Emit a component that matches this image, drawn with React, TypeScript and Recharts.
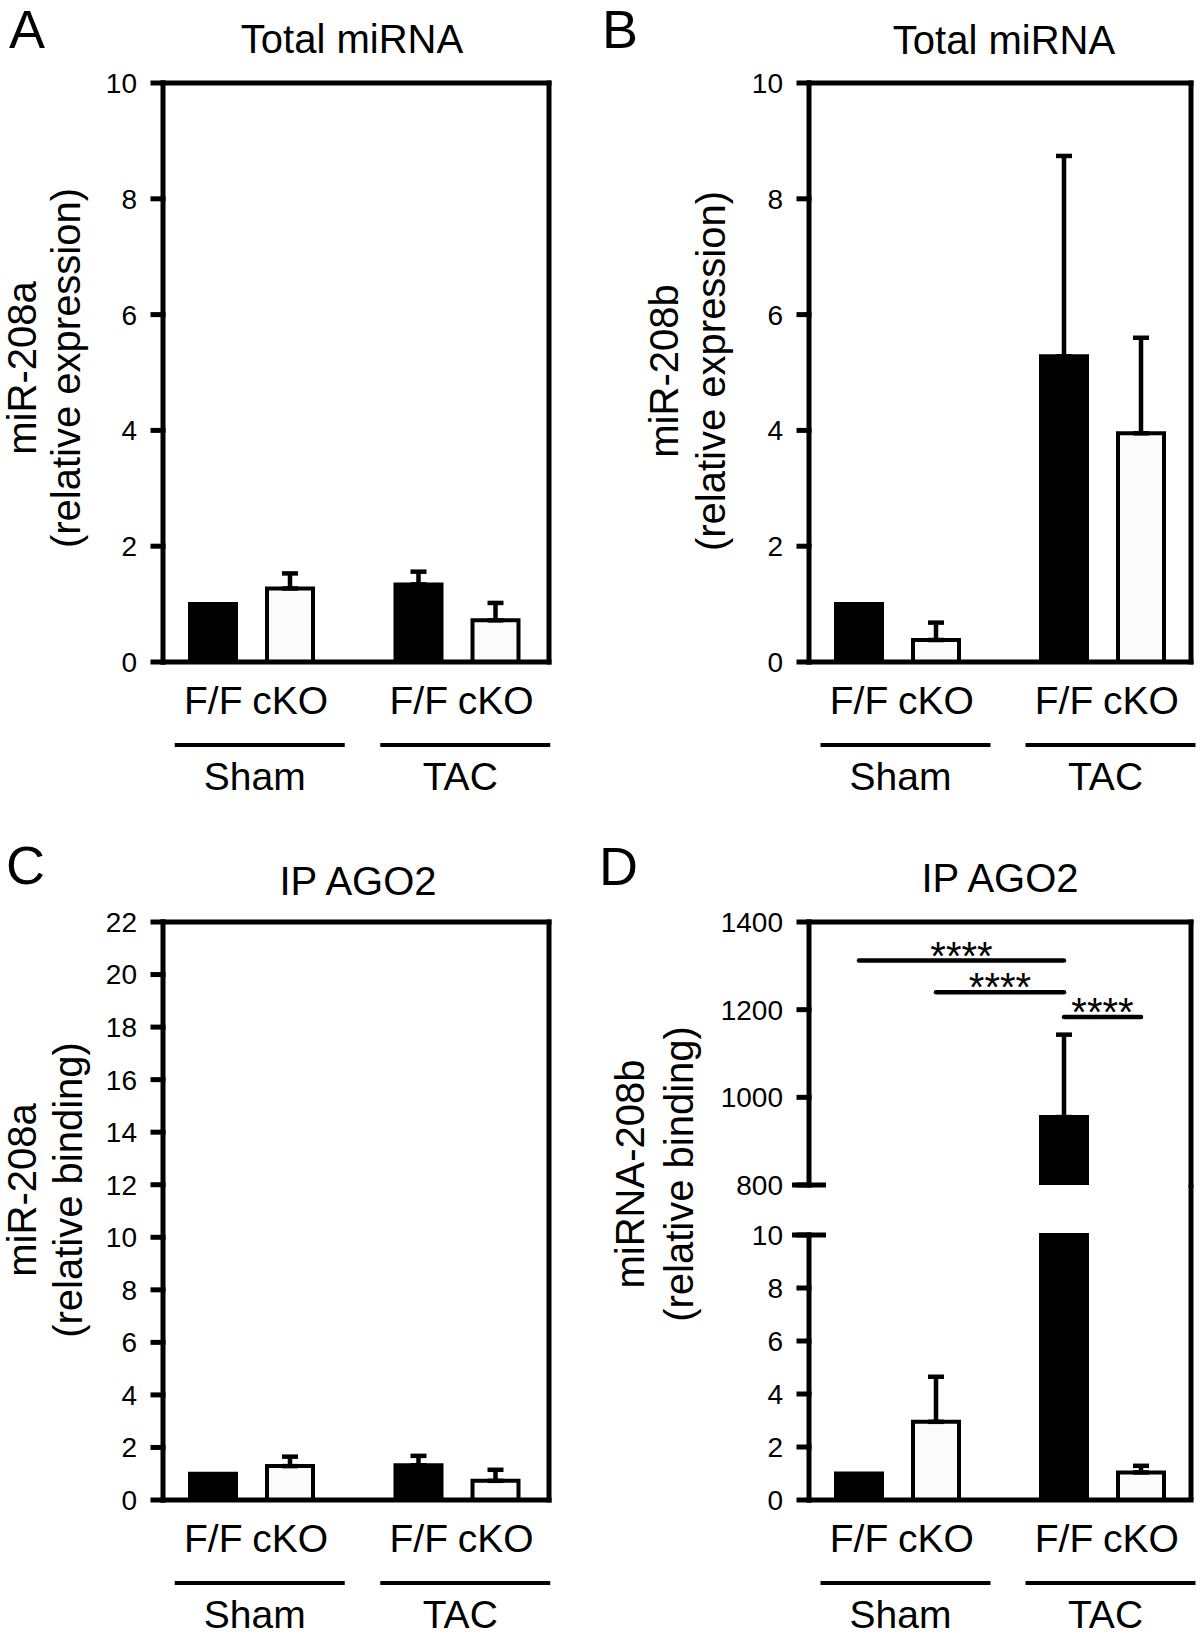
import { BarChart, Bar, XAxis, YAxis, ErrorBar, ReferenceLine, CartesianGrid } from "recharts";

const groups = ["Sham", "TAC"];
const genotypes = ["F/F", "cKO"];

// A: miR-208a, total miRNA
const aFF = [1.0, 1.34];
const aFFErr = [null, 0.22];
const aKO = [1.27, 0.72];
const aKOErr = [0.26, 0.3];

// B: miR-208b, total miRNA
const bFF = [1.0, 5.28];
const bFFErr = [null, 3.46];
const bKO = [0.38, 3.95];
const bKOErr = [0.3, 1.65];

// C: miR-208a, IP AGO2
const cFF = [1.0, 1.32];
const cFFErr = [null, 0.36];
const cKO = [1.29, 0.73];
const cKOErr = [0.36, 0.42];

// D: miRNA-208b, IP AGO2 (broken axis)
const dFF = [1.0, 955];
const dFFErr = [null, 188];
const dKO = [2.95, 1.04];
const dKOErr = [1.7, 0.25];

const ticks10 = [0, 2, 4, 6, 8, 10];
const ticks22 = [0, 2, 4, 6, 8, 10, 12, 14, 16, 18, 20, 22];
const ticksHigh = [800, 1000, 1200, 1400];
const LOW_MAX = 10;
const HIGH_MIN = 800;
const HIGH_MAX = 1400;

// significance brackets in D: [group, genotype index] -> [group, genotype index]
const brackets = [
  { from: ["Sham", 0], to: ["TAC", 0], y: 1312, label: "****" },
  { from: ["Sham", 1], to: ["TAC", 0], y: 1240, label: "****" },
  { from: ["TAC", 0], to: ["TAC", 1], y: 1183, label: "****" },
];

const FONT = '"Liberation Sans", Arial, Helvetica, sans-serif';
const W = 600;
const BAR = 46;
const GAP = 31;
const PAIR = (BAR + GAP) / 2;
const TICK_SIZE = 10;
const TICK_MARGIN = 16;
const frame = { stroke: "#000", strokeWidth: 5, strokeLinecap: "square" as const };

type View = (v: number, e: number | null) => [number | null, number | null];

function makeRows(ff: number[], ffErr: (number | null)[], ko: number[], koErr: (number | null)[], view: View = (v, e) => [v, e]) {
  return groups.map((group, i) => {
    const [f, fe] = view(ff[i], ffErr[i]);
    const [k, ke] = view(ko[i], koErr[i]);
    return {
      group,
      ff: f,
      ffErr: fe == null ? null : [0, fe],
      ko: k,
      koErr: ke == null ? null : [0, ke],
    };
  });
}

const aRows = makeRows(aFF, aFFErr, aKO, aKOErr);
const bRows = makeRows(bFF, bFFErr, bKO, bKOErr);
const cRows = makeRows(cFF, cFFErr, cKO, cKOErr);
const dLowRows = makeRows(dFF, dFFErr, dKO, dKOErr, (v, e) => (v > LOW_MAX ? [LOW_MAX, null] : [v, e]));
const dHighRows = makeRows(dFF, dFFErr, dKO, dKOErr, (v, e) => (v >= HIGH_MIN ? [v, e] : [null, null]));

// box lines: top and right edge of the plot area
const topEdge = ({ offset }: any) => [offset.top];
const rightEdge = ({ offset }: any) => [offset.left + offset.width];

function GroupTick(props: any) {
  const { x, y, payload } = props;
  return (
    <g>
      <text x={x - PAIR} y={y + 52} textAnchor="middle" fontSize={39} fill="#000">{genotypes[0]}</text>
      <text x={x + PAIR} y={y + 52} textAnchor="middle" fontSize={39} fill="#000">{genotypes[1]}</text>
      <line x1={x - 77} x2={x + 93} y1={y + 83} y2={y + 83} stroke="#000" strokeWidth={4} />
      <text x={x + 3} y={y + 128} textAnchor="middle" fontSize={39} fill="#000">{payload.value}</text>
    </g>
  );
}

function BreakTick(props: any) {
  const { x, y, payload, at } = props;
  const axisX = x + TICK_SIZE + TICK_MARGIN;
  return (
    <g>
      <text x={x} y={y} dy="0.355em" textAnchor="end" fontSize={28} fill="#000">{payload.value}</text>
      {payload.value === at && (
        <line x1={axisX - 17} x2={axisX + 17} y1={y} y2={y} stroke="#000" strokeWidth={5} />
      )}
    </g>
  );
}

function Bracket(props: any) {
  const { x1, x2, y1, dx1, dx2, label } = props;
  const a = x1 + dx1;
  const b = x2 + dx2;
  return (
    <g>
      <line x1={a} x2={b} y1={y1} y2={y1} stroke="#000" strokeWidth={4.5} strokeLinecap="round" />
      <text x={(a + b) / 2} y={y1 + 9} textAnchor="middle" fontSize={40} fill="#000">{label}</text>
    </g>
  );
}

function Texts({ letter, letterX, letterY, title, titleX, titleY, yLines, yCenter }: any) {
  return (
    <g fill="#000">
      <text x={letterX} y={letterY} fontSize={54}>{letter}</text>
      <text x={titleX} y={titleY} fontSize={40} textAnchor="middle">{title}</text>
      {yLines.map((l: any, i: number) => (
        <text key={i} x={l.x} y={yCenter} fontSize={40} textAnchor="middle" transform={`rotate(-90, ${l.x}, ${yCenter})`}>
          {l.text}
        </text>
      ))}
    </g>
  );
}

function bars() {
  return [
    <Bar key="ff" dataKey="ff" name={genotypes[0]} fill="#000" stroke="#000" strokeWidth={4} barSize={BAR} isAnimationActive={false}>
      <ErrorBar dataKey="ffErr" width={8} strokeWidth={4.5} stroke="#000" isAnimationActive={false} />
    </Bar>,
    <Bar key="ko" dataKey="ko" name={genotypes[1]} fill="#fbfbfb" stroke="#000" strokeWidth={4} barSize={BAR} isAnimationActive={false}>
      <ErrorBar dataKey="koErr" width={8} strokeWidth={4.5} stroke="#000" isAnimationActive={false} />
    </Bar>,
  ];
}

function SimplePanel({ data, yMax, ticks, lay, height, children }: any) {
  return (
    <BarChart width={W} height={height} data={data} barGap={GAP} margin={{ top: lay.top, right: W - lay.right, bottom: 0, left: 0 }}>
      <CartesianGrid
        stroke="#000"
        strokeWidth={5}
        strokeLinecap="square"
        horizontalCoordinatesGenerator={topEdge}
        verticalCoordinatesGenerator={rightEdge}
      />
      <XAxis
        dataKey="group"
        height={height - lay.bottom}
        padding={{ left: lay.padL, right: lay.padR }}
        stroke="#000"
        axisLine={frame}
        tickLine={false}
        tickSize={0}
        tickMargin={0}
        interval={0}
        tick={GroupTick}
      />
      <YAxis
        width={lay.left}
        domain={[0, yMax]}
        ticks={ticks}
        interval={0}
        stroke="#000"
        axisLine={frame}
        tickLine={frame}
        tickSize={TICK_SIZE}
        tickMargin={TICK_MARGIN}
        tick={{ fontSize: 28, fill: "#000" }}
      />
      {bars()}
      {children}
    </BarChart>
  );
}

const layA = { left: 163, right: 549, top: 83, bottom: 662, padL: -14, padR: -11 };
const layB = { left: 209, right: 591, top: 83, bottom: 662, padL: -14, padR: -14 };
const layC = { left: 163, right: 549, top: 104, bottom: 682, padL: -14, padR: -11 };
const layDLow = { left: 209, right: 591, top: 417, bottom: 682, padL: -14, padR: -14 };
const UP_TOP = 104;
const UP_BOTTOM = 367;
const UP_H = 390;

function PanelD() {
  return (
    <div style={{ position: "relative", width: W, height: 819 }}>
      <div style={{ position: "absolute", left: 0, top: 0 }}>
        <BarChart width={W} height={819} data={dLowRows} barGap={GAP}
          margin={{ top: layDLow.top, right: W - layDLow.right, bottom: 0, left: 0 }}>
          <CartesianGrid stroke="#000" strokeWidth={5} horizontal={false} verticalCoordinatesGenerator={rightEdge} />
          <XAxis
            dataKey="group"
            height={819 - layDLow.bottom}
            padding={{ left: layDLow.padL, right: layDLow.padR }}
            stroke="#000"
            axisLine={frame}
            tickLine={false}
            tickSize={0}
            tickMargin={0}
            interval={0}
            tick={GroupTick}
          />
          <YAxis
            width={layDLow.left}
            domain={[0, LOW_MAX]}
            ticks={ticks10}
            interval={0}
            stroke="#000"
            axisLine={frame}
            tickLine={frame}
            tickSize={TICK_SIZE}
            tickMargin={TICK_MARGIN}
            tick={(p: any) => <BreakTick {...p} at={LOW_MAX} />}
          />
          {bars()}
          <line x1={layDLow.right} x2={layDLow.right} y1={UP_BOTTOM} y2={layDLow.top} stroke="#000" strokeWidth={5} />
          <Texts
            letter="D" letterX={-1} letterY={67}
            title="IP AGO2" titleX={400} titleY={74}
            yLines={[{ text: "miRNA-208b", x: 44 }, { text: "(relative binding)", x: 93 }]}
            yCenter={356}
          />
        </BarChart>
      </div>
      <div style={{ position: "absolute", left: 0, top: 0 }}>
        <BarChart width={W} height={UP_H} data={dHighRows} barGap={GAP}
          margin={{ top: UP_TOP, right: W - layDLow.right, bottom: UP_H - UP_BOTTOM, left: 0 }}>
          <CartesianGrid
            stroke="#000"
            strokeWidth={5}
            strokeLinecap="square"
            horizontalCoordinatesGenerator={topEdge}
            verticalCoordinatesGenerator={rightEdge}
          />
          <XAxis dataKey="group" hide padding={{ left: layDLow.padL, right: layDLow.padR }} />
          <YAxis
            width={layDLow.left}
            domain={[HIGH_MIN, HIGH_MAX]}
            ticks={ticksHigh}
            interval={0}
            allowDataOverflow
            stroke="#000"
            axisLine={frame}
            tickLine={frame}
            tickSize={TICK_SIZE}
            tickMargin={TICK_MARGIN}
            tick={(p: any) => <BreakTick {...p} at={HIGH_MIN} />}
          />
          {bars()}
          {brackets.map((b, i) => (
            <ReferenceLine
              key={i}
              segment={[{ x: b.from[0], y: b.y }, { x: b.to[0], y: b.y }]}
              ifOverflow="visible"
              shape={(p: any) => (
                <Bracket {...p} label={b.label}
                  dx1={b.from[1] === 0 ? -PAIR : PAIR}
                  dx2={b.to[1] === 0 ? -PAIR : PAIR} />
              )}
            />
          ))}
        </BarChart>
      </div>
    </div>
  );
}

export default function App() {
  return (
    <div style={{ position: "absolute", left: 0, top: 0, width: 1200, height: 1637, background: "#fff", fontFamily: FONT, overflow: "hidden" }}>
      <div style={{ position: "absolute", left: 0, top: 0 }}>
        <SimplePanel data={aRows} yMax={10} ticks={ticks10} lay={layA} height={818}>
          <Texts
            letter="A" letterX={9} letterY={48}
            title="Total miRNA" titleX={352} titleY={53}
            yLines={[{ text: "miR-208a", x: 36 }, { text: "(relative expression)", x: 80 }]}
            yCenter={368}
          />
        </SimplePanel>
      </div>
      <div style={{ position: "absolute", left: 600, top: 0 }}>
        <SimplePanel data={bRows} yMax={10} ticks={ticks10} lay={layB} height={818}>
          <Texts
            letter="B" letterX={2} letterY={48}
            title="Total miRNA" titleX={404} titleY={54}
            yLines={[{ text: "miR-208b", x: 78 }, { text: "(relative expression)", x: 125 }]}
            yCenter={371}
          />
        </SimplePanel>
      </div>
      <div style={{ position: "absolute", left: 0, top: 818 }}>
        <SimplePanel data={cRows} yMax={22} ticks={ticks22} lay={layC} height={819}>
          <Texts
            letter="C" letterX={6} letterY={66}
            title="IP AGO2" titleX={358} titleY={77}
            yLines={[{ text: "miR-208a", x: 36 }, { text: "(relative binding)", x: 82 }]}
            yCenter={372}
          />
        </SimplePanel>
      </div>
      <div style={{ position: "absolute", left: 600, top: 818 }}>
        <PanelD />
      </div>
    </div>
  );
}
